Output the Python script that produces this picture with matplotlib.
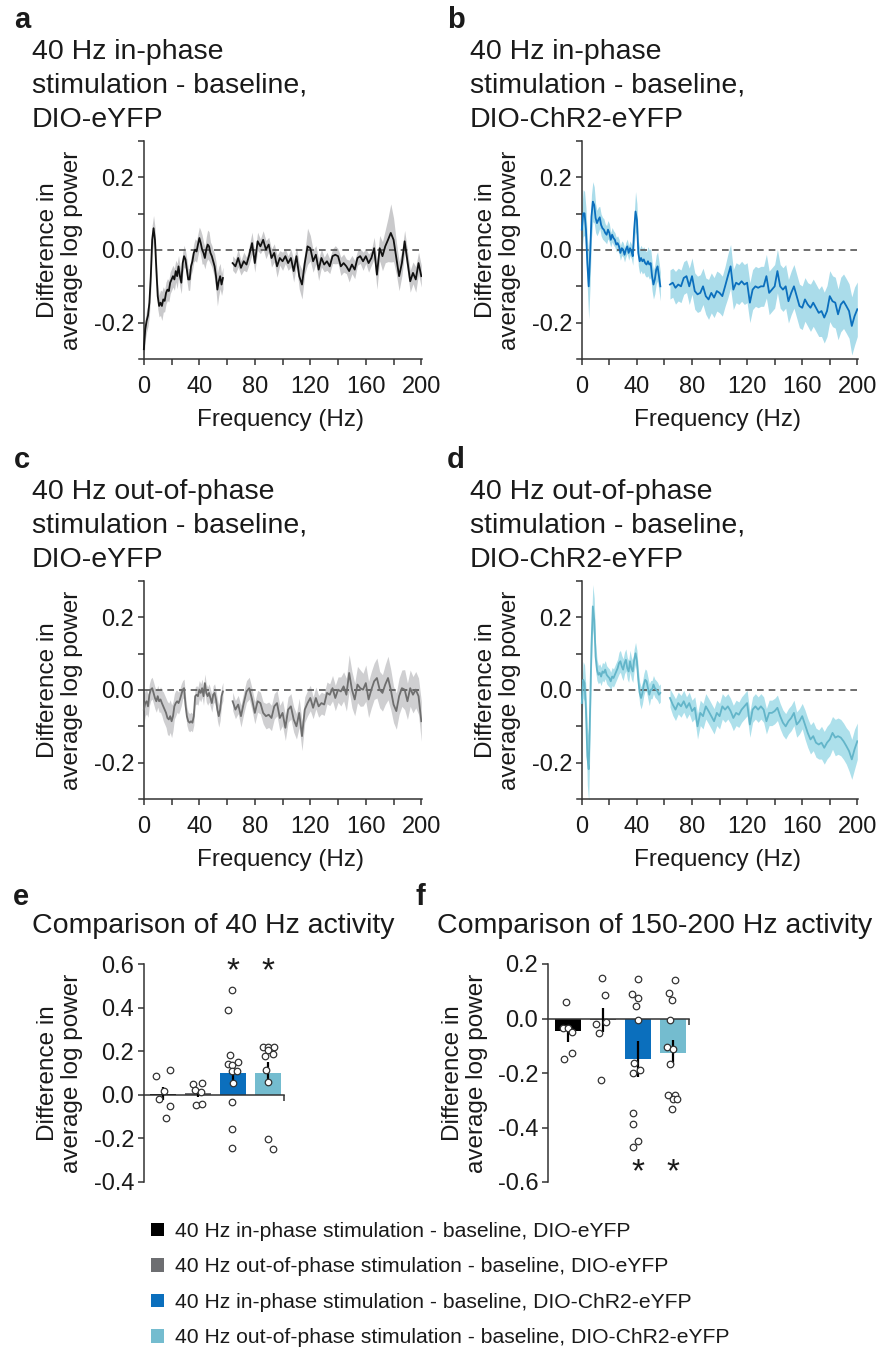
import numpy as np
import matplotlib
matplotlib.use('Agg')
import matplotlib.pyplot as plt
from matplotlib.patches import Patch
from matplotlib.ticker import FormatStrFormatter

plt.rcParams['font.family'] = ['Liberation Sans', 'DejaVu Sans']
plt.rcParams['axes.unicode_minus'] = False

W, H = 883, 1353

# ---------------- spectra (difference in average log power) ----------------
freq_low = np.arange(0, 58)          # 0-57 Hz, 1 Hz steps
freq_high = np.arange(64, 201, 2)    # 64-200 Hz, 2 Hz steps

a_low = [-0.273, -0.218, -0.195, -0.18, -0.145, -0.072, 0.028, 0.06, 0.028, -0.054,
         -0.127, -0.154, -0.145, -0.154, -0.136, -0.14, -0.118, -0.109, -0.113, -0.09,
         -0.081, -0.072, -0.081, -0.058, -0.072, -0.045, -0.072, -0.09, -0.036, -0.017,
         -0.026, -0.054, -0.081, -0.081, -0.045, -0.031, -0.008, 0.001, -0.004, 0.015,
         0.033, 0.019, 0.001, -0.008, -0.022, 0.001, 0.015, 0.01, -0.008, -0.017,
         -0.031, -0.045, -0.072, -0.109, -0.086, -0.072, -0.095, -0.077]
a_low_sem = [0.03, 0.03, 0.03, 0.03, 0.035, 0.04, 0.04, 0.035, 0.035, 0.035,
             0.035, 0.03, 0.035, 0.04, 0.035, 0.03, 0.03, 0.03, 0.03, 0.03,
             0.03, 0.03, 0.03, 0.03, 0.035, 0.03, 0.03, 0.03, 0.03, 0.03,
             0.025, 0.03, 0.03, 0.03, 0.025, 0.025, 0.025, 0.03, 0.03, 0.03,
             0.03, 0.035, 0.04, 0.03, 0.03, 0.035, 0.04, 0.04, 0.03, 0.03,
             0.03, 0.035, 0.04, 0.045, 0.04, 0.035, 0.03, 0.03]
a_high = [-0.036, -0.045, -0.022, -0.049, -0.031, -0.040, -0.013, 0.019, -0.036, 0.024,
          0.010, 0.028, 0.001, 0.015, -0.022, -0.008, -0.045, -0.022, -0.031, -0.017,
          -0.036, -0.022, -0.058, -0.017, -0.072, -0.095, -0.036, 0.010, 0.005, -0.031,
          -0.013, -0.054, -0.022, -0.040, -0.031, -0.045, -0.017, -0.013, -0.017, -0.045,
          -0.036, -0.045, -0.058, -0.040, -0.054, -0.022, -0.017, -0.031, -0.017, -0.036,
          -0.022, 0.005, -0.068, 0.005, -0.017, 0.010, 0.028, 0.047, 0.028, -0.022,
          -0.072, -0.036, 0.024, -0.031, -0.086, -0.063, -0.081, -0.036, -0.072]
a_high_sem = [0.02, 0.02, 0.025, 0.02, 0.025, 0.02, 0.025, 0.03, 0.025, 0.025,
              0.02, 0.025, 0.025, 0.02, 0.025, 0.025, 0.03, 0.02, 0.025, 0.02,
              0.02, 0.025, 0.03, 0.025, 0.035, 0.04, 0.03, 0.05, 0.035, 0.03,
              0.025, 0.03, 0.025, 0.02, 0.025, 0.02, 0.02, 0.025, 0.02, 0.025,
              0.025, 0.02, 0.03, 0.025, 0.025, 0.02, 0.02, 0.025, 0.02, 0.025,
              0.02, 0.03, 0.04, 0.035, 0.04, 0.045, 0.06, 0.08, 0.06, 0.045,
              0.04, 0.035, 0.03, 0.03, 0.03, 0.03, 0.035, 0.03, 0.03]

b_low = [0.056, 0.101, 0.101, 0.056, -0.036, -0.1, -0.017, 0.092, 0.133, 0.124,
         0.088, 0.074, 0.083, 0.09, 0.069, 0.06, 0.056, 0.047, 0.042, 0.056,
         0.047, 0.028, 0.042, 0.033, 0.028, 0.015, 0.019, 0.01, -0.008, 0.005,
         0.001, -0.013, 0.001, 0.01, -0.008, 0.005, -0.004, -0.017, 0.056, 0.106,
         0.083, -0.008, -0.031, -0.022, -0.031, -0.026, -0.036, -0.04, -0.031, -0.04,
         -0.036, -0.072, -0.095, -0.081, -0.054, -0.045, -0.072, -0.1]
b_low_sem = [0.06, 0.065, 0.06, 0.06, 0.07, 0.09, 0.08, 0.06, 0.055, 0.05,
             0.04, 0.035, 0.035, 0.03, 0.03, 0.03, 0.03, 0.025, 0.025, 0.025,
             0.025, 0.02, 0.02, 0.02, 0.02, 0.02, 0.02, 0.02, 0.02, 0.02,
             0.02, 0.02, 0.02, 0.02, 0.02, 0.02, 0.02, 0.025, 0.04, 0.055,
             0.045, 0.035, 0.035, 0.035, 0.035, 0.035, 0.035, 0.035, 0.04, 0.04,
             0.04, 0.04, 0.04, 0.04, 0.04, 0.04, 0.04, 0.04]
b_high = [-0.095, -0.09, -0.104, -0.095, -0.1, -0.077, -0.072, -0.1, -0.072, -0.113,
          -0.122, -0.118, -0.1, -0.127, -0.136, -0.118, -0.131, -0.113, -0.118, -0.127,
          -0.1, -0.072, -0.045, -0.109, -0.09, -0.095, -0.086, -0.095, -0.09, -0.145,
          -0.109, -0.1, -0.104, -0.1, -0.1, -0.072, -0.118, -0.109, -0.1, -0.058,
          -0.1, -0.109, -0.1, -0.141, -0.118, -0.1, -0.127, -0.154, -0.159, -0.136,
          -0.15, -0.159, -0.145, -0.159, -0.173, -0.168, -0.186, -0.168, -0.127, -0.141,
          -0.145, -0.177, -0.15, -0.141, -0.154, -0.168, -0.209, -0.182, -0.163]
b_high_sem = [0.04, 0.04, 0.045, 0.045, 0.045, 0.045, 0.045, 0.05, 0.05, 0.05,
              0.05, 0.05, 0.05, 0.05, 0.055, 0.055, 0.055, 0.055, 0.055, 0.055,
              0.055, 0.06, 0.06, 0.055, 0.055, 0.055, 0.055, 0.055, 0.055, 0.055,
              0.055, 0.055, 0.055, 0.055, 0.055, 0.06, 0.06, 0.06, 0.06, 0.06,
              0.06, 0.06, 0.06, 0.06, 0.06, 0.06, 0.06, 0.06, 0.06, 0.06,
              0.06, 0.065, 0.065, 0.065, 0.065, 0.07, 0.07, 0.07, 0.07, 0.07,
              0.07, 0.07, 0.075, 0.075, 0.075, 0.075, 0.08, 0.08, 0.075]

c_low = [-0.054, -0.036, -0.031, -0.045, -0.013, 0.001, 0.005, -0.008, -0.022, -0.031,
         -0.017, -0.031, -0.026, -0.036, -0.045, -0.054, -0.063, -0.077, -0.081, -0.072,
         -0.086, -0.072, -0.045, -0.036, -0.031, -0.036, -0.026, -0.013, 0.001, 0.005,
         -0.04, -0.072, -0.086, -0.09, -0.086, -0.09, -0.072, -0.017, -0.013, -0.017,
         0.001, -0.008, 0.005, -0.017, 0.019, -0.008, -0.017, -0.008, -0.022, -0.036,
         -0.013, -0.008, -0.026, -0.054, -0.072, -0.054, -0.017, -0.004]
c_low_sem = [0.04, 0.035, 0.035, 0.03, 0.03, 0.03, 0.03, 0.03, 0.03, 0.03,
             0.03, 0.03, 0.035, 0.035, 0.04, 0.04, 0.04, 0.045, 0.045, 0.045,
             0.045, 0.04, 0.035, 0.035, 0.03, 0.03, 0.03, 0.03, 0.025, 0.025,
             0.025, 0.025, 0.025, 0.025, 0.025, 0.025, 0.025, 0.025, 0.025, 0.025,
             0.025, 0.025, 0.025, 0.025, 0.025, 0.025, 0.025, 0.025, 0.025, 0.025,
             0.025, 0.025, 0.025, 0.03, 0.03, 0.03, 0.025, 0.025]
c_high = [-0.031, -0.054, -0.04, -0.072, -0.036, -0.004, 0.005, -0.026, -0.063, -0.031,
          -0.036, -0.063, -0.072, -0.068, -0.077, -0.045, -0.036, -0.077, -0.063, -0.104,
          -0.054, -0.045, -0.081, -0.1, -0.063, -0.127, -0.054, -0.036, -0.022, -0.049,
          -0.022, -0.045, -0.036, -0.04, -0.008, -0.013, 0.005, -0.022, 0.001, -0.004,
          0.01, -0.013, 0.047, 0.001, -0.026, 0.015, 0.005, 0.001, 0.019, -0.026,
          0.001, 0.024, 0.033, 0.001, -0.008, 0.015, 0.033, 0.001, -0.04, -0.058,
          -0.017, 0.005, 0.001, -0.031, 0.005, -0.013, 0.001, -0.017, -0.086]
c_high_sem = [0.025, 0.025, 0.025, 0.03, 0.03, 0.03, 0.03, 0.03, 0.03, 0.03,
              0.03, 0.03, 0.035, 0.035, 0.035, 0.035, 0.035, 0.035, 0.035, 0.035,
              0.035, 0.035, 0.035, 0.035, 0.04, 0.04, 0.035, 0.035, 0.035, 0.03,
              0.03, 0.03, 0.03, 0.03, 0.03, 0.03, 0.035, 0.035, 0.035, 0.04,
              0.04, 0.045, 0.05, 0.05, 0.045, 0.05, 0.05, 0.045, 0.05, 0.05,
              0.05, 0.05, 0.055, 0.05, 0.05, 0.055, 0.06, 0.055, 0.05, 0.05,
              0.05, 0.05, 0.055, 0.05, 0.05, 0.05, 0.05, 0.05, 0.055]

d_low = [-0.036, 0.028, 0.019, -0.054, -0.182, -0.218, -0.054, 0.12, 0.23, 0.193,
         0.092, 0.056, 0.042, 0.047, 0.037, 0.051, 0.047, 0.056, 0.042, 0.037,
         0.033, 0.024, 0.037, 0.033, 0.042, 0.051, 0.06, 0.074, 0.079, 0.065,
         0.056, 0.074, 0.083, 0.06, 0.051, 0.079, 0.06, 0.051, 0.083, 0.101,
         0.079, 0.028, -0.008, -0.022, -0.008, 0.015, 0.028, 0.024, 0.005, -0.013,
         0.001, 0.001, 0.015, 0.005, 0.001, -0.004, -0.013, -0.008]
d_low_sem = [0.05, 0.05, 0.05, 0.06, 0.08, 0.09, 0.08, 0.06, 0.06, 0.06,
             0.04, 0.03, 0.025, 0.025, 0.025, 0.025, 0.025, 0.025, 0.025, 0.025,
             0.025, 0.025, 0.025, 0.025, 0.025, 0.025, 0.025, 0.03, 0.03, 0.03,
             0.03, 0.03, 0.03, 0.03, 0.03, 0.03, 0.03, 0.03, 0.03, 0.03,
             0.03, 0.03, 0.03, 0.03, 0.03, 0.03, 0.03, 0.03, 0.03, 0.03,
             0.025, 0.025, 0.025, 0.025, 0.025, 0.025, 0.025, 0.025]
d_high = [-0.022, -0.04, -0.054, -0.036, -0.045, -0.031, -0.049, -0.036, -0.058, -0.049,
          -0.1, -0.063, -0.072, -0.045, -0.058, -0.072, -0.086, -0.063, -0.072, -0.045,
          -0.054, -0.045, -0.058, -0.077, -0.063, -0.068, -0.054, -0.045, -0.036, -0.095,
          -0.054, -0.045, -0.054, -0.045, -0.054, -0.086, -0.063, -0.063, -0.058, -0.049,
          -0.072, -0.09, -0.1, -0.086, -0.077, -0.063, -0.095, -0.086, -0.072, -0.095,
          -0.118, -0.136, -0.127, -0.145, -0.15, -0.145, -0.159, -0.145, -0.136, -0.118,
          -0.131, -0.127, -0.131, -0.141, -0.154, -0.168, -0.191, -0.163, -0.141]
d_high_sem = [0.025, 0.03, 0.03, 0.03, 0.03, 0.03, 0.03, 0.03, 0.03, 0.03,
              0.035, 0.035, 0.035, 0.035, 0.035, 0.035, 0.035, 0.035, 0.035, 0.035,
              0.035, 0.035, 0.035, 0.035, 0.035, 0.035, 0.035, 0.035, 0.035, 0.035,
              0.035, 0.035, 0.035, 0.035, 0.035, 0.035, 0.035, 0.035, 0.035, 0.035,
              0.035, 0.035, 0.035, 0.035, 0.035, 0.035, 0.035, 0.035, 0.035, 0.04,
              0.04, 0.04, 0.04, 0.04, 0.04, 0.045, 0.045, 0.045, 0.045, 0.045,
              0.05, 0.05, 0.05, 0.05, 0.05, 0.055, 0.055, 0.055, 0.05]

# ---------------- bar panels ----------------
group_labels = ['40 Hz in-phase stimulation - baseline, DIO-eYFP',
                '40 Hz out-of-phase stimulation - baseline, DIO-eYFP',
                '40 Hz in-phase stimulation - baseline, DIO-ChR2-eYFP',
                '40 Hz out-of-phase stimulation - baseline, DIO-ChR2-eYFP']

e_means = [0.005, 0.008, 0.10, 0.10]
e_errs = [0.03, 0.02, 0.035, 0.05]
e_points = [[0.087, 0.115, 0.018, -0.02, -0.05, -0.108],
            [0.049, 0.053, 0.02, 0.012, -0.049, -0.04],
            [0.481, 0.388, 0.183, 0.14, 0.151, 0.137, 0.111, 0.111, 0.053, -0.035, -0.157, -0.244],
            [0.218, 0.218, 0.218, 0.206, 0.179, 0.185, 0.115, 0.061, -0.203, -0.249]]
e_jitter = [[-0.21, 0.19, 0.02, -0.11, 0.19, 0.08],
            [-0.15, 0.12, -0.1, 0.07, -0.07, 0.12],
            [-0.04, -0.15, -0.1, -0.14, 0.13, -0.03, -0.04, 0.11, 0.0, -0.04, -0.04, -0.04],
            [-0.15, -0.01, 0.16, -0.01, -0.1, 0.14, -0.06, -0.01, -0.01, 0.13]]

f_means = [-0.045, -0.005, -0.148, -0.125]
f_errs = [0.04, 0.045, 0.065, 0.045]
f_points = [[0.062, -0.034, -0.034, -0.051, -0.125, -0.149],
            [0.148, 0.086, -0.021, -0.012, -0.053, -0.224],
            [0.144, 0.09, 0.075, 0.046, -0.004, -0.163, -0.2, -0.19, -0.346, -0.388, -0.45, -0.473],
            [0.141, 0.092, 0.067, -0.004, -0.104, -0.113, -0.168, -0.279, -0.279, -0.297, -0.297, -0.333]]
f_jitter = [[-0.06, -0.13, 0.0, 0.13, 0.13, -0.11],
            [-0.02, 0.05, -0.21, 0.1, -0.1, -0.05],
            [0.01, -0.18, 0.0, -0.05, 0.01, -0.1, -0.14, 0.07, -0.14, -0.14, 0.01, -0.14],
            [0.05, -0.1, -0.04, -0.08, -0.17, -0.01, -0.08, -0.13, 0.06, -0.01, 0.13, -0.03]]

BAR_COLORS = ['#000000', '#6d6e71', '#0b6fbd', '#74bccf']
SPINE = '#333333'
TEXT = '#1a1a1a'

fig = plt.figure(figsize=(W / 100, H / 100), dpi=100)


def add_axes_px(left, top, width, height):
    return fig.add_axes([left / W, 1 - (top + height) / H, width / W, height / H])


def fig_text(x, y, s, **kw):
    fig.text(x / W, 1 - y / H, s, color=TEXT, **kw)


def style_axes(ax):
    for side in ('top', 'right'):
        ax.spines[side].set_visible(False)
    for side in ('left', 'bottom'):
        ax.spines[side].set_color(SPINE)
        ax.spines[side].set_linewidth(1.1)
    ax.tick_params(which='both', direction='out', length=4, width=1.1, color=SPINE,
                   labelsize=17, pad=3, labelcolor=TEXT)


def spectrum_panel(ax, low, low_sem, high, high_sem, line_color, band_color):
    for fr, m, s in ((freq_low, low, low_sem), (freq_high, high, high_sem)):
        m = np.asarray(m)
        s = np.asarray(s)
        ax.fill_between(fr, m - s, m + s, color=band_color, linewidth=0, zorder=1)
        ax.plot(fr, m, color=line_color, linewidth=1.3, zorder=3)
    ax.plot([0, 200], [0, 0], color='#555555', linewidth=1.2, dashes=(4, 3), zorder=2)
    ax.set_xlim(-3.5, 200.5)
    ax.set_ylim(-0.3, 0.3)
    ax.spines['left'].set_position(('data', 0))
    ax.set_xticks([0, 40, 80, 120, 160, 200])
    ax.set_xticks([20, 60, 100, 140, 180], minor=True)
    ax.set_yticks([-0.2, 0.0, 0.2])
    ax.set_yticks([-0.1, 0.1, 0.3], minor=True)
    ax.yaxis.set_major_formatter(FormatStrFormatter('%.1f'))
    style_axes(ax)
    ax.tick_params(axis='x', which='major', pad=8)
    ax.set_xlabel('Frequency (Hz)', fontsize=17.5, color=TEXT, labelpad=8)


def bar_panel(ax, means, errs, points, jitter, ylim, yticks, xlim, star_y):
    x = np.arange(len(means))
    ax.bar(x, means, width=0.75, color=BAR_COLORS, zorder=2)
    ax.errorbar(x, means, yerr=errs, fmt='none', ecolor='black', elinewidth=1.6,
                capsize=0, zorder=3)
    for i, (vals, jit) in enumerate(zip(points, jitter)):
        ax.scatter(i + np.asarray(jit), vals, s=22, facecolor='white',
                   edgecolor='#333333', linewidth=0.9, zorder=4)
    ax.set_xlim(*xlim)
    ax.set_ylim(*ylim)
    ax.spines['bottom'].set_position(('data', 0))
    ax.set_yticks(yticks)
    ax.yaxis.set_major_formatter(FormatStrFormatter('%.1f'))
    ax.set_xticks([xlim[1]])
    ax.set_xticklabels([''])
    style_axes(ax)
    for i in (2, 3):
        ax.text(i, star_y, '*', ha='center', va='center', fontsize=24, color=TEXT)


def ylabel(cx, cy):
    fig.text(cx / W, 1 - cy / H, 'Difference in\naverage log power', rotation=90,
             ha='center', va='center', multialignment='center', fontsize=17.5,
             linespacing=1.15, color=TEXT)


# panels a-d
ax_a = add_axes_px(139, 141, 283, 218)
spectrum_panel(ax_a, a_low, a_low_sem, a_high, a_high_sem, '#111111', '#c9c9cb')
ax_b = add_axes_px(577, 141, 281, 218)
spectrum_panel(ax_b, b_low, b_low_sem, b_high, b_high_sem, '#0b6fbd', '#aadcea')
ax_c = add_axes_px(139, 581, 283, 218)
spectrum_panel(ax_c, c_low, c_low_sem, c_high, c_high_sem, '#6e6e6e', '#cfcfd1')
ax_d = add_axes_px(577, 581, 281, 218)
spectrum_panel(ax_d, d_low, d_low_sem, d_high, d_high_sem, '#63b5c9', '#ade0eb')

for cx, cy in ((60, 250), (498, 250), (60, 690), (498, 690), (60, 1073), (465, 1073)):
    ylabel(cx, cy)

# panels e, f
ax_e = add_axes_px(144, 964, 140, 218)
bar_panel(ax_e, e_means, e_errs, e_points, e_jitter, (-0.4, 0.6),
          [-0.4, -0.2, 0.0, 0.2, 0.4, 0.6], (-0.55, 3.45), 0.565)
ax_f = add_axes_px(548, 964, 141, 218)
bar_panel(ax_f, f_means, f_errs, f_points, f_jitter, (-0.6, 0.2),
          [-0.6, -0.4, -0.2, 0.0, 0.2], (-0.57, 3.46), -0.565)

# titles and panel letters
titles = {
    'a': (14, 32, 0, ['40 Hz in-phase', 'stimulation - baseline,', 'DIO-eYFP']),
    'b': (447, 470, 0, ['40 Hz in-phase', 'stimulation - baseline,', 'DIO-ChR2-eYFP']),
    'c': (14, 32, 440, ['40 Hz out-of-phase', 'stimulation - baseline,', 'DIO-eYFP']),
    'd': (447, 470, 440, ['40 Hz out-of-phase', 'stimulation - baseline,', 'DIO-ChR2-eYFP']),
}
for letter, (lx, tx, dy, lines) in titles.items():
    fig_text(lx, 28 + dy, letter, fontsize=21, fontweight='bold', va='baseline')
    for k, line in enumerate(lines):
        fig_text(tx, 59 + dy + 34 * k, line, fontsize=20.5, va='baseline')

fig_text(13, 905, 'e', fontsize=21, fontweight='bold', va='baseline')
fig_text(32, 933, 'Comparison of 40 Hz activity', fontsize=20.5, va='baseline')
fig_text(416, 905, 'f', fontsize=21, fontweight='bold', va='baseline')
fig_text(437, 933, 'Comparison of 150-200 Hz activity', fontsize=20.5, va='baseline')

# legend
handles = [Patch(facecolor=c, edgecolor='none') for c in BAR_COLORS]
leg = fig.legend(handles, group_labels, loc='upper left',
                 bbox_to_anchor=(151 / W, 1 - 1222 / H), frameon=False, fontsize=15.2,
                 handlelength=0.62, handleheight=0.62, handletextpad=0.5,
                 labelspacing=0.78, borderpad=0, borderaxespad=0)
for t in leg.get_texts():
    t.set_color(TEXT)

fig.savefig('out.png', dpi=100)
